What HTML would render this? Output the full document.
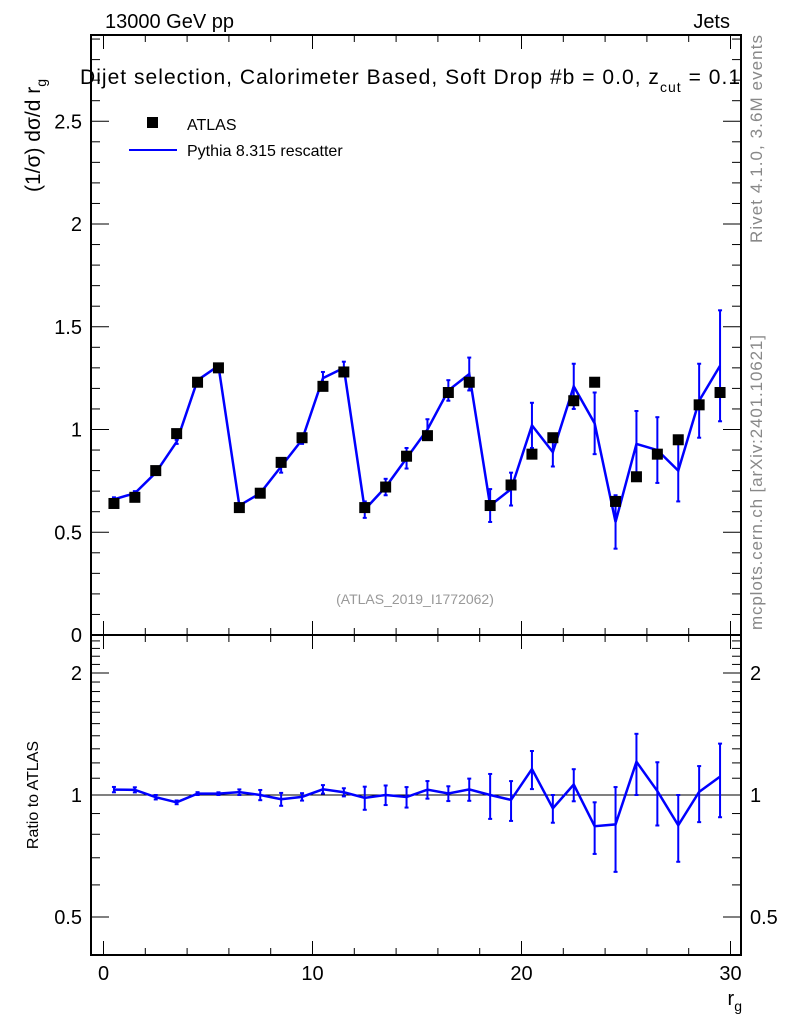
<!DOCTYPE html>
<html><head><meta charset="utf-8"><style>
body{margin:0;background:#fff;}
svg{font-family:"Liberation Sans",sans-serif;}
</style></head><body>
<svg id="c" width="786" height="1024" xmlns="http://www.w3.org/2000/svg">
<rect width="786" height="1024" fill="#fff"/>
<g id="g"></g>
<text x="105" y="28" font-size="20">13000 GeV pp</text>
<text x="730" y="28" font-size="20" text-anchor="end">Jets</text>
<text x="80" y="84" font-size="21" textLength="660">Dijet selection, Calorimeter Based, Soft Drop #b = 0.0, z<tspan dy="8" font-size="14">cut</tspan><tspan dy="-8"> = 0.1</tspan></text>
<rect x="147" y="117" width="11" height="11" fill="#000"/>
<text x="187" y="130" font-size="16">ATLAS</text>
<line x1="129" y1="150" x2="177" y2="150" stroke="#0000ff" stroke-width="2"/>
<text x="187" y="156" font-size="16">Pythia 8.315 rescatter</text>
<text x="415" y="604" font-size="14" fill="#999" text-anchor="middle">(ATLAS_2019_I1772062)</text>
<text transform="translate(40,192) rotate(-90)" font-size="21">(1/σ) dσ/d r<tspan dy="6" font-size="14">g</tspan></text>
<text transform="translate(38,795) rotate(-90)" font-size="16" text-anchor="middle">Ratio to ATLAS</text>
<text x="742" y="1005" font-size="20" text-anchor="end">r<tspan dy="6" font-size="14">g</tspan></text>
<text transform="translate(762,243) rotate(-90)" font-size="17" fill="#888" textLength="208">Rivet 4.1.0,  3.6M events</text>
<text transform="translate(762,630) rotate(-90)" font-size="17" fill="#888" textLength="295">mcplots.cern.ch [arXiv:2401.10621]</text>
</svg>
<script>
const xBins=[0.5,1.5,2.5,3.5,4.5,5.5,6.5,7.5,8.5,9.5,10.5,11.5,12.5,13.5,14.5,15.5,16.5,17.5,18.5,19.5,20.5,21.5,22.5,23.5,24.5,25.5,26.5,27.5,28.5,29.5];
const atlasVals=[0.64,0.67,0.80,0.98,1.23,1.30,0.62,0.69,0.84,0.96,1.21,1.28,0.62,0.72,0.87,0.97,1.18,1.23,0.63,0.73,0.88,0.96,1.14,1.23,0.65,0.77,0.88,0.95,1.12,1.18];
const mcVals=[0.66,0.69,0.79,0.94,1.24,1.31,0.63,0.69,0.82,0.95,1.25,1.30,0.61,0.72,0.86,1.00,1.19,1.27,0.63,0.71,1.02,0.89,1.21,1.03,0.55,0.93,0.90,0.80,1.14,1.31];
const mcErrs=[0.01,0.01,0.01,0.01,0.01,0.01,0.01,0.02,0.03,0.02,0.03,0.03,0.04,0.04,0.05,0.05,0.05,0.08,0.08,0.08,0.11,0.07,0.11,0.15,0.13,0.16,0.16,0.15,0.18,0.27];
const mainTicks=[0,0.5,1,1.5,2,2.5];
const mainTickLabels=["0","0.5","1","1.5","2","2.5"];
const ratioTicks=[0.5,1,2];
const ratioTickLabels=["0.5","1","2"];
const xTicks=[0,10,20,30];

const L=91,R=741,T=35,M=635,B=955;
const X=v=>103.5+v*20.9;
const Y=v=>635-v*205.5;
const YR=r=>795-Math.log2(r)*122;
const NS="http://www.w3.org/2000/svg";
const g=document.getElementById('g');
function mk(t,a){const e=document.createElementNS(NS,t);for(const k in a)e.setAttribute(k,a[k]);g.appendChild(e);return e;}
let e=mk('rect',{x:L,y:T,width:R-L,height:M-T,fill:'none',stroke:'#000','stroke-width':2});

e=mk('rect',{x:L,y:M,width:R-L,height:B-M,fill:'none',stroke:'#000','stroke-width':2});

for(let v=0;v<=30;v+=2){const maj=v%10==0,l=maj?14:7;
 for(const [y0,d] of [[M,-1],[T,1],[B,-1],[M,1]]){e=mk('line',{x1:X(v),x2:X(v),y1:y0,y2:y0+d*l,stroke:'#000'});}}
xTicks.forEach(v=>{e=mk('text',{x:X(v),y:980,'font-size':20,'text-anchor':'middle'});e.textContent=v;});
for(let i=0;i<=29;i++){const v=i/10;if(Y(v)<T)break;const maj=i%5==0,l=maj?18:9;
 for(const [x0,d] of [[L,1],[R,-1]]){e=mk('line',{x1:x0,x2:x0+d*l,y1:Y(v),y2:Y(v),stroke:'#000'});}}
mainTicks.forEach((v,i)=>{e=mk('text',{x:82,y:Y(v)+7,'font-size':20,'text-anchor':'end'});e.textContent=mainTickLabels[i];});
for(let i=5;i<=24;i++){const v=i/10;const y=YR(v);if(y<M||y>B)continue;const maj=(i==5||i==10||i==20),l=maj?18:9;
 for(const [x0,d] of [[L,1],[R,-1]]){e=mk('line',{x1:x0,x2:x0+d*l,y1:y,y2:y,stroke:'#000'});}}
ratioTicks.forEach((v,i)=>{for(const [x,a] of [[82,'end'],[750,'start']]){e=mk('text',{x:x,y:YR(v)+7,'font-size':20,'text-anchor':a});e.textContent=ratioTickLabels[i];}});
e=mk('line',{x1:L,x2:R,y1:YR(1),y2:YR(1),stroke:'#000'});

xBins.forEach((x,i)=>{e=mk('line',{x1:X(x),x2:X(x),y1:Y(mcVals[i]-mcErrs[i]),y2:Y(mcVals[i]+mcErrs[i]),stroke:'#0000ff','stroke-width':2});
 for(const s of [-1,1]){e=mk('line',{x1:X(x)-2,x2:X(x)+2,y1:Y(mcVals[i]+s*mcErrs[i]),y2:Y(mcVals[i]+s*mcErrs[i]),stroke:'#0000ff','stroke-width':2});}});
e=mk('polyline',{points:xBins.map((x,i)=>X(x)+','+Y(mcVals[i])).join(' '),fill:'none',stroke:'#0000ff','stroke-width':2.5});

xBins.forEach((x,i)=>{e=mk('rect',{x:X(x)-5.5,y:Y(atlasVals[i])-5.5,width:11,height:11,fill:'#000'});});
const ratios=mcVals.map((v,i)=>v/atlasVals[i]);
xBins.forEach((x,i)=>{const r=ratios[i],d=mcErrs[i]/atlasVals[i];
 e=mk('line',{x1:X(x),x2:X(x),y1:YR(Math.max(r-d,0.3)),y2:YR(r+d),stroke:'#0000ff','stroke-width':2});
 for(const s of [-1,1]){e=mk('line',{x1:X(x)-2,x2:X(x)+2,y1:YR(r+s*d),y2:YR(r+s*d),stroke:'#0000ff','stroke-width':2});}});
e=mk('polyline',{points:xBins.map((x,i)=>X(x)+','+YR(ratios[i])).join(' '),fill:'none',stroke:'#0000ff','stroke-width':2.5});

</script>
</body></html>
